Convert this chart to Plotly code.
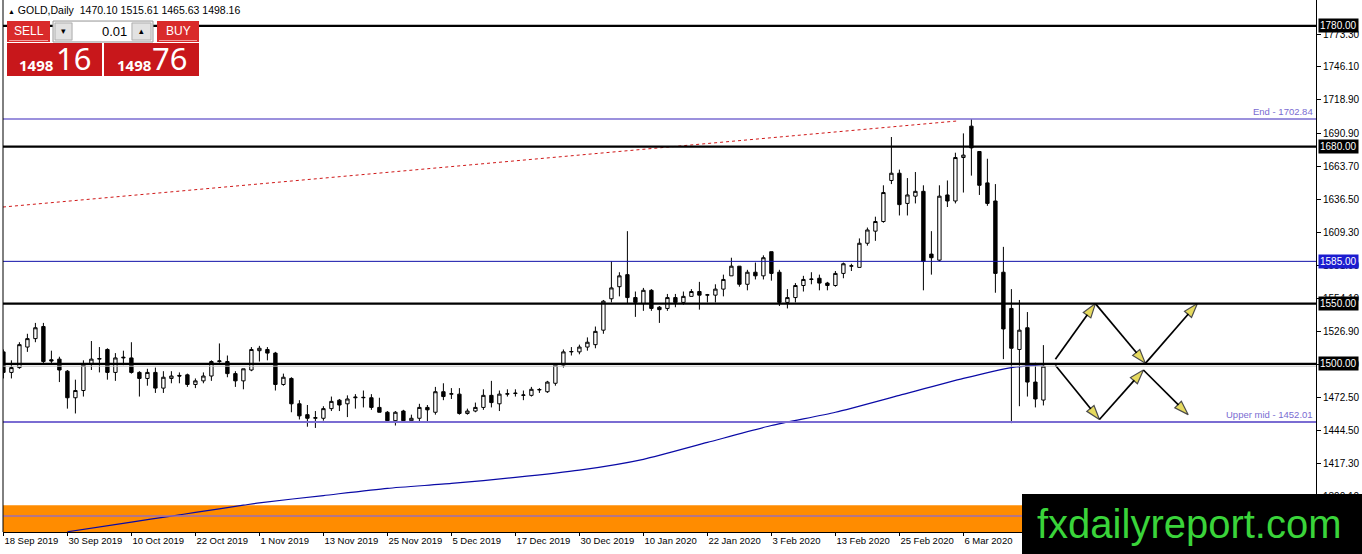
import plotly.graph_objects as go

# ---------------- data ----------------
header_symbol = "GOLD,Daily"
header_ohlc = ["1470.10", "1515.61", "1465.63", "1498.16"]

date_labels = ["18 Sep 2019", "30 Sep 2019", "10 Oct 2019", "22 Oct 2019", "1 Nov 2019",
               "13 Nov 2019", "25 Nov 2019", "5 Dec 2019", "17 Dec 2019", "30 Dec 2019",
               "10 Jan 2020", "22 Jan 2020", "3 Feb 2020", "13 Feb 2020", "25 Feb 2020",
               "6 Mar 2020"]
date_label_bars = [0, 8, 16, 24, 32, 40, 48, 56, 64, 72, 80, 88, 96, 104, 112, 120]

opens = [1510, 1493, 1497, 1514, 1521, 1531, 1503.5, 1504, 1494, 1472,
         1478, 1500, 1504, 1512, 1493, 1505, 1505, 1493, 1488, 1493,
         1480, 1488, 1490.5, 1491, 1483, 1486, 1490, 1502, 1502, 1492,
         1486, 1495, 1511, 1512, 1509, 1483, 1488, 1467, 1458, 1455,
         1455, 1463, 1470, 1467, 1472, 1472, 1472, 1464, 1460, 1453,
         1461, 1453, 1455, 1464, 1460, 1477, 1475, 1475, 1459, 1461,
         1464, 1474, 1467, 1475, 1475.5, 1474, 1474, 1478.5, 1477, 1484,
         1499, 1510, 1510, 1514, 1516, 1528, 1554, 1564, 1574, 1555,
         1550, 1561, 1547, 1546, 1555, 1551, 1556, 1560, 1557, 1557,
         1562, 1573, 1581, 1566, 1576, 1573, 1593, 1576, 1551, 1555,
         1565, 1570, 1571, 1567, 1565, 1575, 1581, 1580, 1600, 1610,
         1618, 1652, 1658, 1633, 1639, 1643, 1591, 1586, 1640, 1635,
         1671, 1697, 1676, 1650, 1635, 1576, 1546, 1512, 1530, 1485,
         1470.10]
highs = [1512, 1503, 1518, 1525, 1534, 1534, 1511, 1506, 1495, 1487,
         1503, 1519, 1514, 1513, 1509, 1511, 1518, 1494, 1496, 1497,
         1494, 1494, 1493, 1492, 1488, 1493, 1503, 1517, 1507, 1494,
         1496, 1514, 1515, 1514, 1510, 1492, 1489, 1470, 1466, 1461,
         1465, 1473, 1471, 1474, 1475, 1478, 1475, 1472, 1461, 1461,
         1462, 1458, 1467, 1466, 1481, 1484, 1480, 1480, 1463, 1468,
         1479, 1486, 1478, 1479, 1479, 1478, 1481, 1480, 1486, 1500,
         1512, 1514, 1516, 1522, 1531, 1553, 1585, 1576, 1610, 1560,
         1563, 1562, 1548, 1558, 1558, 1560, 1562, 1568, 1558, 1566,
         1574, 1588, 1581, 1578, 1584, 1590, 1593, 1578, 1562, 1567,
         1573, 1576, 1574, 1568, 1577, 1584, 1583, 1604, 1613, 1622,
         1648, 1688, 1661, 1654, 1659, 1648, 1610, 1648, 1652, 1675,
         1691, 1702.84, 1676, 1670, 1649, 1597, 1562, 1553, 1543, 1501,
         1515.61]
lows = [1488, 1488, 1496, 1510, 1518, 1500, 1500, 1485, 1463, 1459,
        1473, 1495, 1493, 1487, 1486, 1499, 1492, 1473, 1482, 1476,
        1476, 1484, 1484, 1481, 1480, 1484, 1486, 1501, 1489, 1481,
        1479, 1494, 1502, 1503, 1478, 1482, 1460, 1454, 1448, 1447,
        1453, 1461, 1461, 1456, 1463, 1464, 1462, 1460, 1452, 1449,
        1452, 1452, 1452, 1452, 1458, 1470, 1471, 1458, 1458, 1460,
        1462, 1464, 1461, 1473, 1473, 1470, 1473, 1476, 1476, 1482,
        1497, 1507, 1508, 1511, 1513, 1525, 1551, 1556, 1550, 1539,
        1544, 1544, 1534, 1544, 1547, 1549, 1556, 1545, 1551, 1551,
        1556, 1573, 1564, 1561, 1570, 1570, 1569, 1548, 1546, 1551,
        1560, 1566, 1561, 1561, 1564, 1571, 1577, 1580, 1598, 1602,
        1617, 1649, 1623, 1623, 1633, 1561, 1574, 1585, 1630, 1633,
        1642, 1656, 1640, 1631, 1559, 1504, 1451, 1465, 1473, 1464,
        1465.63]
closes = [1493, 1497, 1516, 1521, 1530, 1502, 1502.5, 1495, 1472, 1478,
          1499, 1504, 1504.5, 1493, 1505, 1505.5, 1493, 1488, 1493, 1480,
          1489, 1490, 1490, 1483, 1486, 1490, 1502, 1502.5, 1492, 1486,
          1496, 1512, 1513, 1509, 1483, 1489, 1467, 1457, 1455, 1455.5,
          1463, 1469, 1466, 1471, 1472.5, 1472.3, 1464, 1460, 1453, 1460,
          1453, 1455, 1464, 1462, 1477, 1473, 1475.3, 1459, 1461, 1464,
          1474, 1468, 1475, 1475.3, 1475.8, 1474.3, 1479, 1478.8, 1485, 1499,
          1510, 1510.3, 1514, 1518, 1527, 1552, 1563, 1573, 1555, 1551,
          1561, 1546, 1545, 1555, 1551, 1556, 1560, 1557, 1557.3, 1562,
          1570, 1581, 1566, 1576, 1573, 1588, 1575, 1551, 1555, 1565,
          1570, 1570.3, 1567, 1565, 1575, 1583, 1581.3, 1600, 1611, 1618,
          1642, 1658, 1632, 1640, 1643, 1585, 1588, 1639, 1635, 1671,
          1673, 1679, 1648, 1633, 1575, 1529, 1513, 1528, 1485, 1471,
          1498.16]

ma_bars = [8, 16, 21, 24, 30, 32, 40, 48, 56, 64, 72, 80, 88, 96, 104, 112, 120, 126, 130]
ma_values = [1361, 1369, 1374, 1377, 1383, 1385, 1391, 1397, 1401, 1406, 1412, 1421, 1435,
             1449, 1460, 1474, 1488, 1497, 1499.5]

black_levels = [1780.00, 1680.00, 1550.00, 1500.00]
blue_level = 1585.00
bid_price = 1498.16
end_level = 1702.84
upper_mid_level = 1452.01
zone_line_level = 1374.0
zone_bottom = 1355.0
zone_top = 1383.0

trend_bars = [-0.05, 119.25]
trend_prices = [1630.0, 1701.3]

upper_path_bars = [131.5, 136.5, 142.75, 149.25]
upper_path_prices = [1504.0, 1550.0, 1500.5, 1550.0]
lower_path_bars = [131.5, 137.0, 142.5, 148.1]
lower_path_prices = [1499.0, 1454.0, 1495.0, 1458.0]

price_ticks = [1773.30, 1746.10, 1718.90, 1690.90, 1663.70, 1636.50, 1609.30, 1581.90,
               1554.10, 1526.90, 1499.70, 1472.50, 1444.50, 1417.30, 1390.10]

lot_size = "0.01"
sell_big, sell_small = "1498", "16"
buy_big, buy_small = "1498", "76"
watermark = "fxdailyreport.com"

# ---------------- geometry ----------------
W, H = 1362, 554
ML, MR, MT, MB = 3, 46, 0, 22
PW, PH = W - ML - MR, H - MT - MB
BAR_PX = 8.0
x_range = [-0.05, -0.05 + PW / BAR_PX]
y_range = [1360.8, 1801.5]

FONT = "Liberation Sans"
PURPLE = "#7a6cd2"


def pxx(X):
    return (X - ML) / PW


def pxy(Y):
    return (MT + PH - Y) / PH


fig = go.Figure()

# MA line
fig.add_trace(go.Scatter(x=ma_bars, y=ma_values, mode="lines", line_shape="spline",
                         line=dict(color="#0a0aa6", width=1.2, smoothing=0.6),
                         hoverinfo="skip", showlegend=False))

# trend line
fig.add_trace(go.Scatter(x=trend_bars, y=trend_prices, mode="lines",
                         line=dict(color="#d01818", width=1, dash="dot"),
                         hoverinfo="skip", showlegend=False))

# candles
fig.add_trace(go.Candlestick(
    x=list(range(len(opens))), open=opens, high=highs, low=lows, close=closes,
    increasing=dict(line=dict(color="black", width=1), fillcolor="white"),
    decreasing=dict(line=dict(color="black", width=1), fillcolor="black"),
    whiskerwidth=0, hoverinfo="skip", showlegend=False))

# arrows
for bars, prices in [(upper_path_bars, upper_path_prices), (lower_path_bars, lower_path_prices)]:
    for k in range(len(bars) - 1):
        fig.add_trace(go.Scatter(
            x=[bars[k], bars[k + 1]], y=[prices[k], prices[k + 1]],
            mode="lines+markers",
            line=dict(color="black", width=1.7),
            marker=dict(symbol="arrow", size=[0, 15], angleref="previous",
                        color="#dccb1c", line=dict(color="black", width=1.2)),
            hoverinfo="skip", showlegend=False, cliponaxis=False))

shapes = []
# orange zone
shapes.append(dict(type="rect", xref="paper", yref="y", x0=0, x1=1, y0=zone_bottom, y1=zone_top,
                   fillcolor="#ff8c00", line=dict(width=0), layer="below"))


def hline(level, color, width, dash="solid"):
    return dict(type="line", xref="paper", yref="y", x0=0, x1=1, y0=level, y1=level,
                line=dict(color=color, width=width, dash=dash), layer="above")


shapes.append(hline(zone_line_level, "#9a6fb6", 1.5))
shapes.append(hline(upper_mid_level, PURPLE, 2))
shapes.append(hline(end_level, PURPLE, 1.5))
shapes.append(hline(blue_level, "#1010a8", 1))
shapes.append(hline(bid_price, "#c4c4c4", 1))
for lv in black_levels:
    shapes.append(hline(lv, "black", 2.2))
# left frame line
shapes.append(dict(type="line", xref="paper", yref="paper", x0=0, x1=0, y0=0, y1=1,
                   line=dict(color="black", width=1), layer="above"))


def prect(x0, y0, x1, y1, fill, lc=None, lw=0):
    return dict(type="rect", xref="paper", yref="paper",
                x0=pxx(x0), x1=pxx(x1), y0=pxy(y1), y1=pxy(y0),
                fillcolor=fill, line=dict(color=lc or fill, width=lw), layer="above")


# trading panel
shapes += [
    prect(7, 21, 50, 42, "#d92b2b"),
    prect(53, 21, 153, 42, "#f2f2f2", "#9a9a9a", 1),
    prect(73, 22, 131, 41, "#ffffff"),
    prect(55, 23, 72, 40, "#e2e2e2", "#b0b0b0", 1),
    prect(132, 23, 151, 40, "#e2e2e2", "#b0b0b0", 1),
    prect(157, 21, 199, 42, "#d92b2b"),
    prect(7, 43, 102, 76, "#c8171b"),
    prect(104, 43, 199, 76, "#c8171b"),
    prect(9, 40, 48, 41, "#f4a0a0"),
    prect(159, 40, 197, 41, "#f4a0a0"),
]
# watermark box
shapes.append(dict(type="rect", xref="paper", yref="paper",
                   x0=pxx(1022), x1=pxx(W + 5), y0=pxy(H + 5), y1=pxy(494),
                   fillcolor="black", line=dict(width=0), layer="above"))

ann = []


def ptext(X, Y, text, size, color="black", xanchor="center", family=FONT, bold=False):
    t = f"<b>{text}</b>" if bold else text
    ann.append(dict(xref="paper", yref="paper", x=pxx(X), y=pxy(Y), text=t,
                    showarrow=False, xanchor=xanchor, yanchor="middle",
                    font=dict(family=family, size=size, color=color)))


ptext(6, 10, "<span style='font-size:7px'>▲</span> " + header_symbol + "  " + " ".join(header_ohlc),
      10.5, xanchor="left")
ptext(28.5, 31, "SELL", 12, "white")
ptext(178, 31, "BUY", 12, "white")
ptext(129, 31, lot_size, 13, xanchor="right")
ptext(63.5, 31, "▾", 9)
ptext(141.5, 31, "▴", 9)
ptext(36, 65, sell_big, 15, "white", bold=True, family="Noto Sans")
ptext(73, 58, sell_small, 31, "white", family="Noto Sans")
ptext(134, 65, buy_big, 15, "white", bold=True, family="Noto Sans")
ptext(170, 58, buy_small, 31, "white", family="Noto Sans")
ptext(1189, 524, watermark, 40, "#3ad43a")

# level labels on axis
for lv, bg in [(1780.00, "black"), (1680.00, "black"), (1550.00, "black"),
               (1500.00, "black"), (blue_level, "#1c1cd0")]:
    ann.append(dict(xref="paper", yref="y", x=1, y=lv, xanchor="left", yanchor="middle",
                    xshift=2, text=f"{lv:.2f}", showarrow=False, bgcolor=bg, borderpad=1,
                    font=dict(family=FONT, size=10, color="white")))

# object descriptions
ann.append(dict(xref="paper", yref="y", x=1, y=end_level, xanchor="right", yanchor="bottom",
                text=f"End - {end_level:.2f}", showarrow=False, xshift=-1,
                font=dict(family=FONT, size=9.5, color=PURPLE)))
ann.append(dict(xref="paper", yref="y", x=1, y=upper_mid_level, xanchor="right", yanchor="bottom",
                text=f"Upper mid - {upper_mid_level:.2f}", showarrow=False, xshift=-1,
                font=dict(family=FONT, size=9.5, color=PURPLE)))

fig.update_layout(
    width=W, height=H,
    margin=dict(l=ML, r=MR, t=MT, b=MB, pad=0),
    paper_bgcolor="white", plot_bgcolor="white",
    showlegend=False, hovermode=False,
    boxgap=0.4,
    shapes=shapes, annotations=ann,
    xaxis=dict(range=x_range, showgrid=False, zeroline=False,
               tickmode="array", tickvals=date_label_bars, ticktext=date_labels,
               ticklabelposition="outside right", ticks="outside", ticklen=3,
               tickangle=0,
               tickcolor="black", showline=True, linecolor="black", linewidth=1,
               tickfont=dict(family=FONT, size=9.5, color="black"),
               rangeslider=dict(visible=False), fixedrange=True, automargin=False),
    yaxis=dict(range=y_range, side="right", showgrid=False, zeroline=False,
               tickmode="array", tickvals=price_ticks,
               ticktext=[f"{v:.2f}" for v in price_ticks],
               ticks="outside", ticklen=4, tickcolor="black",
               showline=True, linecolor="black", linewidth=1,
               tickfont=dict(family=FONT, size=10, color="black"), fixedrange=True,
               automargin=False),
)

fig.write_html("out.html", config={"displayModeBar": False},
               post_script="document.body.style.margin='0';document.body.style.overflow='hidden';")
